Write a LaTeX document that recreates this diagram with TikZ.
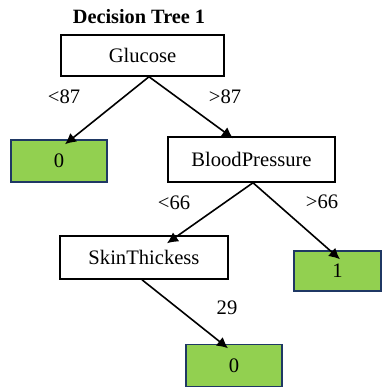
\documentclass[tikz,border=0pt]{standalone}
\usepackage{fontspec}
\setmainfont{Liberation Serif}
\usetikzlibrary{arrows.meta}
\definecolor{leafgreen}{HTML}{92D050}
\definecolor{leafedge}{HTML}{1F3864}
\begin{document}
\begin{tikzpicture}[x=1pt,y=-1pt,
  every node/.style={font=\fontsize{20.6}{24}\selectfont, inner sep=0pt},
  split/.style={draw=black, line width=1.5pt, fill=white},
  leaf/.style={draw=leafedge, line width=1.5pt, fill=leafgreen},
  edge/.style={line width=1.6pt, -{Latex[length=11pt,width=11pt]}}]
\useasboundingbox (0,0) rectangle (382,387);
\node[font=\fontsize{20.3}{24}\selectfont\bfseries] (title) at (139,17) {Decision Tree 1};
\node[split, minimum width=163pt, minimum height=41pt] (glu) at (142.5,55.5) {Glucose};
\node[leaf, minimum width=96pt, minimum height=42pt] (l0a) at (59,161) {0};
\node[split, minimum width=167pt, minimum height=45pt] (bp) at (251.5,159.5) {BloodPressure};
\node[split, minimum width=168pt, minimum height=43pt] (skin) at (144,257.5) {SkinThickess};
\node[leaf, minimum width=87pt, minimum height=40pt] (l1) at (337.5,271) {1};
\node[leaf, minimum width=96pt, minimum height=42pt] (l0b) at (234,365.5) {0};
\draw[edge] ([xshift=6.5pt]glu.south) -- ([xshift=6pt,yshift=-5pt]l0a.north);
\draw[edge] ([xshift=6.5pt]glu.south) -- ([xshift=-18.5pt,yshift=-2pt]bp.north);
\draw[edge] ([xshift=1.5pt]bp.south) -- ([xshift=23pt,yshift=-8pt]skin.north);
\draw[edge] ([xshift=1.5pt]bp.south) -- ([xshift=2.5pt,yshift=-9pt]l1.north);
\draw[edge] ([xshift=-2pt]skin.south) -- ([xshift=-6pt,yshift=-4.5pt]l0b.north);
\node (lab1) at (64,97) {<87};
\node (lab2) at (225,97) {>87};
\node (lab3) at (174,203) {<66};
\node (lab4) at (322,202) {>66};
\node (lab5) at (227,308) {29};
\end{tikzpicture}
\end{document}
